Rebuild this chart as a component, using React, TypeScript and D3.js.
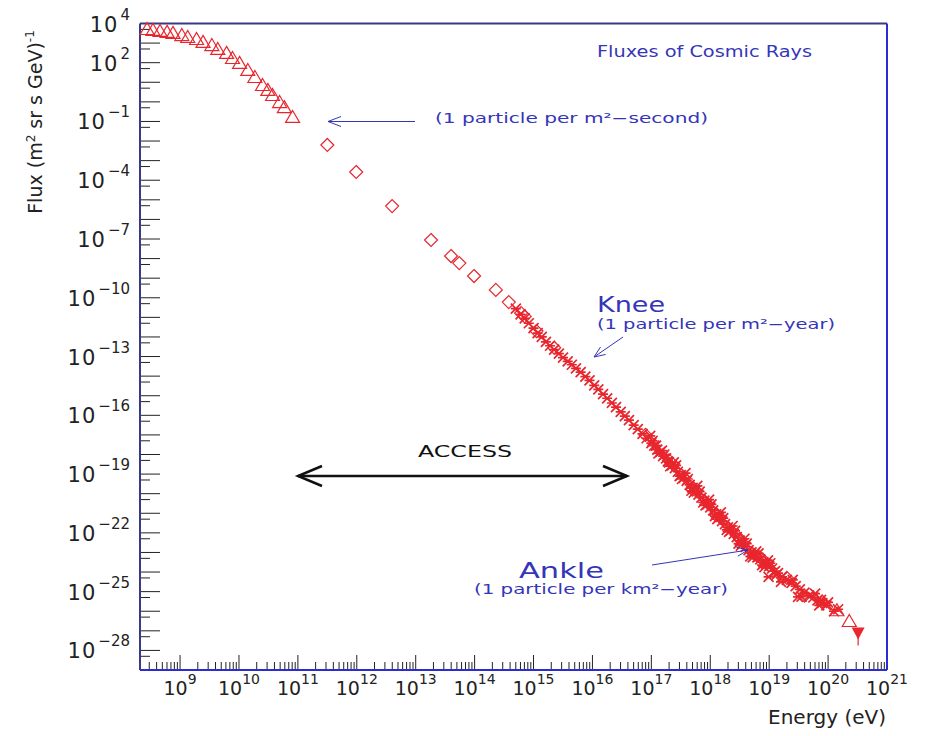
import React, { useEffect, useRef } from 'react';
import * as d3 from 'd3';

// all values are log10: energy in eV, flux in (m^2 sr s GeV)^-1
const triE = [8.44, 8.54, 8.66, 8.78, 8.88, 9.03, 9.13, 9.28, 9.39, 9.54, 9.64, 9.79, 9.89, 10.01, 10.15, 10.27, 10.40, 10.49, 10.57, 10.69, 10.77, 10.91];
const triF = [3.72, 3.67, 3.62, 3.57, 3.52, 3.41, 3.31, 3.21, 3.06, 2.90, 2.70, 2.50, 2.24, 1.99, 1.63, 1.27, 0.86, 0.61, 0.35, -0.01, -0.27, -0.77];

const diaE = [11.50, 11.99, 12.60, 13.26, 13.60, 13.74, 13.99, 14.36, 14.58, 14.79, 14.85, 15.05, 15.35, 16.90, 17.30, 17.70, 18.10, 18.50, 18.90, 19.30, 19.60, 19.90];
const diaF = [-2.20, -3.58, -5.32, -7.05, -7.87, -8.23, -8.89, -9.60, -10.22, -10.78, -10.95, -11.70, -12.55, -17.00, -18.30, -19.80, -21.10, -22.30, -23.40, -24.30, -25.20, -25.50];

const crossE = [14.70, 14.78, 14.85, 14.92, 15.00, 15.07, 15.14, 15.21, 15.28, 15.35, 15.43, 15.50, 15.58, 15.65, 15.72, 15.80, 15.88, 15.95, 16.03, 16.10, 16.18, 16.25, 16.33, 16.40, 16.48, 16.55, 16.62, 16.70, 16.77, 16.85, 16.92, 17.00, 17.05, 17.10, 17.15, 17.20, 17.25, 17.30, 17.35, 17.40, 17.45, 17.50, 17.55, 17.60, 17.65, 17.70, 17.75, 17.80, 17.85, 17.90, 17.95, 18.00, 18.05, 18.10, 18.15, 18.20, 18.25, 18.30, 18.35, 18.40, 18.45, 18.50, 18.55, 18.60, 18.65, 18.70, 18.75, 18.80, 18.85, 18.90, 18.95, 19.00, 19.05, 19.10, 19.15, 19.22, 19.30, 19.38, 19.45, 19.52, 19.60, 19.68, 19.75, 19.82, 19.90, 19.97];
const crossF = [-10.55, -10.85, -11.05, -11.30, -11.55, -11.80, -12.00, -12.25, -12.45, -12.65, -12.85, -13.05, -13.25, -13.42, -13.60, -13.80, -14.02, -14.22, -14.47, -14.68, -14.92, -15.13, -15.37, -15.58, -15.82, -16.04, -16.25, -16.50, -16.70, -16.95, -17.17, -17.42, -17.55, -17.75, -17.88, -18.08, -18.20, -18.40, -18.55, -18.70, -18.88, -19.05, -19.20, -19.35, -19.55, -19.70, -19.85, -20.05, -20.20, -20.35, -20.55, -20.70, -20.85, -21.05, -21.20, -21.40, -21.55, -21.72, -21.88, -22.05, -22.22, -22.40, -22.55, -22.72, -22.88, -23.00, -23.10, -23.25, -23.35, -23.50, -23.60, -23.70, -23.82, -23.95, -24.05, -24.25, -24.40, -24.55, -24.72, -24.88, -25.05, -25.20, -25.30, -25.45, -25.58, -25.70];

const cross2E = [16.98, 17.02, 17.08, 17.12, 17.18, 17.22, 17.28, 17.32, 17.38, 17.42, 17.48, 17.52, 17.58, 17.62, 17.68, 17.72, 17.78, 17.82, 17.88, 17.92, 17.98, 18.02, 18.08, 18.12, 18.18, 18.22, 18.28, 18.32, 18.38, 18.42, 18.48, 18.52, 18.58, 18.62, 18.68, 18.72, 18.78, 18.82, 18.88, 18.92, 18.98, 19.02, 18.99, 19.12, 19.20, 19.40, 19.49, 19.55, 19.78, 19.85, 19.88, 20.00, 20.10, 20.17];
const cross2F = [-17.05, -17.30, -17.55, -17.95, -17.80, -18.00, -18.35, -18.60, -18.40, -18.55, -19.10, -19.25, -18.95, -19.25, -19.85, -19.95, -19.60, -19.90, -20.45, -20.60, -20.30, -20.55, -21.15, -21.30, -20.95, -21.25, -21.85, -21.95, -21.65, -21.90, -22.55, -22.65, -22.30, -22.55, -23.20, -23.25, -22.95, -23.05, -23.65, -23.75, -23.40, -23.55, -24.25, -24.15, -24.50, -24.40, -25.27, -25.25, -25.10, -25.70, -25.42, -25.55, -26.00, -25.90];

const endTriE = [20.15, 20.36];
const endTriF = [-25.95, -26.50];

const limE = [20.51];
const limF = [-27.11];
const limLow = [-27.75];

const xExps = [9, 10, 11, 12, 13, 14, 15, 16, 17, 18, 19, 20, 21];
const yExps = [4, 2, -1, -4, -7, -10, -13, -16, -19, -22, -25, -28];

const RED = '#e8262e';
const BLUE = '#3535b8';

export default function App() {
  const ref = useRef<SVGSVGElement>(null);

  useEffect(() => {
    const svg = d3.select(ref.current);
    svg.selectAll('*').remove();

    const x = d3.scaleLog().domain([Math.pow(10, 8.32), 1e21]).range([140, 887]);
    const y = d3.scaleLog().domain([1e-29, 1e4]).range([670, 23.5]);
    const px = (e: number) => x(Math.pow(10, e));
    const py = (f: number) => y(Math.pow(10, f));
    const font = "'DejaVu Sans', Verdana, sans-serif";

    // ticks
    const ticks = svg.append('g').attr('stroke', '#222').attr('stroke-width', 1);
    for (let n = 8; n <= 20; n++) {
      for (let k = 1; k <= 9; k++) {
        const v = k * Math.pow(10, n);
        if (v < x.domain()[0] || v > 1e21) continue;
        const len = k === 1 ? 15 : 8;
        ticks.append('line').attr('x1', x(v)).attr('x2', x(v)).attr('y1', 670).attr('y2', 670 - len);
      }
    }
    for (let n = -29; n <= 4; n++) {
      const v = Math.pow(10, n);
      if (n > -29 && n < 4) ticks.append('line').attr('x1', 140).attr('x2', 160).attr('y1', y(v)).attr('y2', y(v));
      const h = 5 * Math.pow(10, n - 1);
      if (h > 1e-29 && h < 1e4) ticks.append('line').attr('x1', 140).attr('x2', 150).attr('y1', y(h)).attr('y2', y(h));
    }

    // frame
    svg.append('line').attr('x1', 140).attr('x2', 887).attr('y1', 23.5).attr('y2', 23.5).attr('stroke', '#3a3a82').attr('stroke-width', 2);
    svg.append('line').attr('x1', 140).attr('x2', 140).attr('y1', 23.5).attr('y2', 670).attr('stroke', '#3a3a82').attr('stroke-width', 2);
    svg.append('line').attr('x1', 887).attr('x2', 887).attr('y1', 23.5).attr('y2', 670).attr('stroke', '#2c2cd4').attr('stroke-width', 2);
    svg.append('line').attr('x1', 140).attr('x2', 887).attr('y1', 670).attr('y2', 670).attr('stroke', '#2c2cd4').attr('stroke-width', 2);

    // tick labels
    xExps.forEach(e => {
      const t = svg.append('text').attr('x', x(Math.pow(10, e))).attr('y', 695)
        .attr('text-anchor', 'middle').attr('font-family', font).attr('font-size', 19).attr('fill', '#222');
      t.append('tspan').text('10');
      t.append('tspan').attr('dy', -11).attr('font-size', 14).text(String(e));
    });
    yExps.forEach(e => {
      const t = svg.append('text').attr('x', 130).attr('y', y(Math.pow(10, e)) + 8)
        .attr('text-anchor', 'end').attr('font-family', font).attr('font-size', 21).attr('fill', '#222');
      t.append('tspan').attr('letter-spacing', 1).text('10');
      t.append('tspan').attr('dy', -12).attr('dx', 2).attr('font-size', 15).text(e < 0 ? '\u2212' + (-e) : String(e));
    });

    // axis titles
    const yt = svg.append('text').attr('transform', 'translate(42,122) rotate(-90)')
      .attr('text-anchor', 'middle').attr('font-family', font).attr('font-size', 19).attr('fill', '#222');
    yt.append('tspan').text('Flux (m');
    yt.append('tspan').attr('dy', -7).attr('font-size', 12).text('2');
    yt.append('tspan').attr('dy', 7).text(' sr s GeV)');
    yt.append('tspan').attr('dy', -8).attr('font-size', 12).text('-1');
    svg.append('text').attr('x', 886).attr('y', 724).attr('text-anchor', 'end')
      .attr('font-family', font).attr('font-size', 20).attr('fill', '#222').text('Energy (eV)');

    // markers
    const marks = svg.append('g').attr('fill', 'none').attr('stroke', RED).attr('stroke-width', 1.2);
    const tri = (cx: number, cy: number) =>
      marks.append('path').attr('d', `M${cx},${cy - 6.5}L${cx + 7},${cy + 5.5}L${cx - 7},${cy + 5.5}Z`);
    triE.forEach((e, i) => tri(px(e), py(triF[i])));
    endTriE.forEach((e, i) => tri(px(e), py(endTriF[i])));
    diaE.forEach((e, i) => {
      const cx = px(e), cy = py(diaF[i]);
      marks.append('path').attr('d', `M${cx},${cy - 6.5}L${cx + 6.5},${cy}L${cx},${cy + 6.5}L${cx - 6.5},${cy}Z`);
    });
    const crosses = (es: number[], fs: number[]) => es.forEach((e, i) => {
      const cx = px(e), cy = py(fs[i]);
      marks.append('path').attr('stroke-width', 1.7)
        .attr('d', `M${cx - 5},${cy - 5}L${cx + 5},${cy + 5}M${cx + 5},${cy - 5}L${cx - 5},${cy + 5}M${cx - 5},${cy}L${cx + 5},${cy}`);
    });
    crosses(crossE, crossF);
    crosses(cross2E, cross2F);
    limE.forEach((e, i) => {
      const cx = px(e), cy = py(limF[i]);
      svg.append('line').attr('x1', cx).attr('x2', cx).attr('y1', cy).attr('y2', py(limLow[i])).attr('stroke', RED).attr('stroke-width', 1.2);
      svg.append('path').attr('d', `M${cx - 6.5},${cy - 5.5}L${cx + 6.5},${cy - 5.5}L${cx},${cy + 6.5}Z`).attr('fill', RED);
    });

    // annotations
    const txt = (tx: number, ty: number, s: string, size: number, color: string, len?: number) => {
      const t = svg.append('text').attr('x', tx).attr('y', ty).attr('font-family', font)
        .attr('font-size', size).attr('fill', color).text(s);
      if (len) t.attr('textLength', len).attr('lengthAdjust', 'spacingAndGlyphs');
      return t;
    };
    const arrow = (x1: number, y1: number, x2: number, y2: number, color: string, w: number, hl: number, hw: number) => {
      const a = Math.atan2(y2 - y1, x2 - x1);
      const g = svg.append('g').attr('stroke', color).attr('stroke-width', w).attr('fill', 'none');
      g.append('line').attr('x1', x1).attr('y1', y1).attr('x2', x2).attr('y2', y2);
      const bx = x2 - hl * Math.cos(a), by = y2 - hl * Math.sin(a);
      g.append('path').attr('d', `M${bx + hw * Math.sin(a)},${by - hw * Math.cos(a)}L${x2},${y2}L${bx - hw * Math.sin(a)},${by + hw * Math.cos(a)}`);
    };

    txt(597, 57, 'Fluxes of Cosmic Rays', 16, BLUE, 215);
    txt(435, 123, '(1 particle per m\u00b2\u2212second)', 14, BLUE, 273);
    arrow(415, 121.5, 328, 121.5, BLUE, 1, 13, 5);

    txt(597, 312, 'Knee', 22, BLUE, 68);
    txt(597, 329, '(1 particle per m\u00b2\u2212year)', 14, BLUE, 238);
    arrow(623, 337, 594, 357, BLUE, 1, 11, 4.5);

    txt(418, 457, 'ACCESS', 16, '#111', 94);
    arrow(463, 476, 298, 476, '#111', 2.5, 24, 10);
    arrow(463, 476, 627, 476, '#111', 2.5, 24, 10);

    txt(519, 578, 'Ankle', 22, BLUE, 85);
    txt(474, 594, '(1 particle per km\u00b2\u2212year)', 14, BLUE, 254);
    arrow(652, 565, 748, 550, BLUE, 1, 11, 4.5);
  }, []);

  return (
    <svg ref={ref} width={932} height={736}
      style={{ position: 'absolute', left: 0, top: 0, background: '#fff' }} />
  );
}
